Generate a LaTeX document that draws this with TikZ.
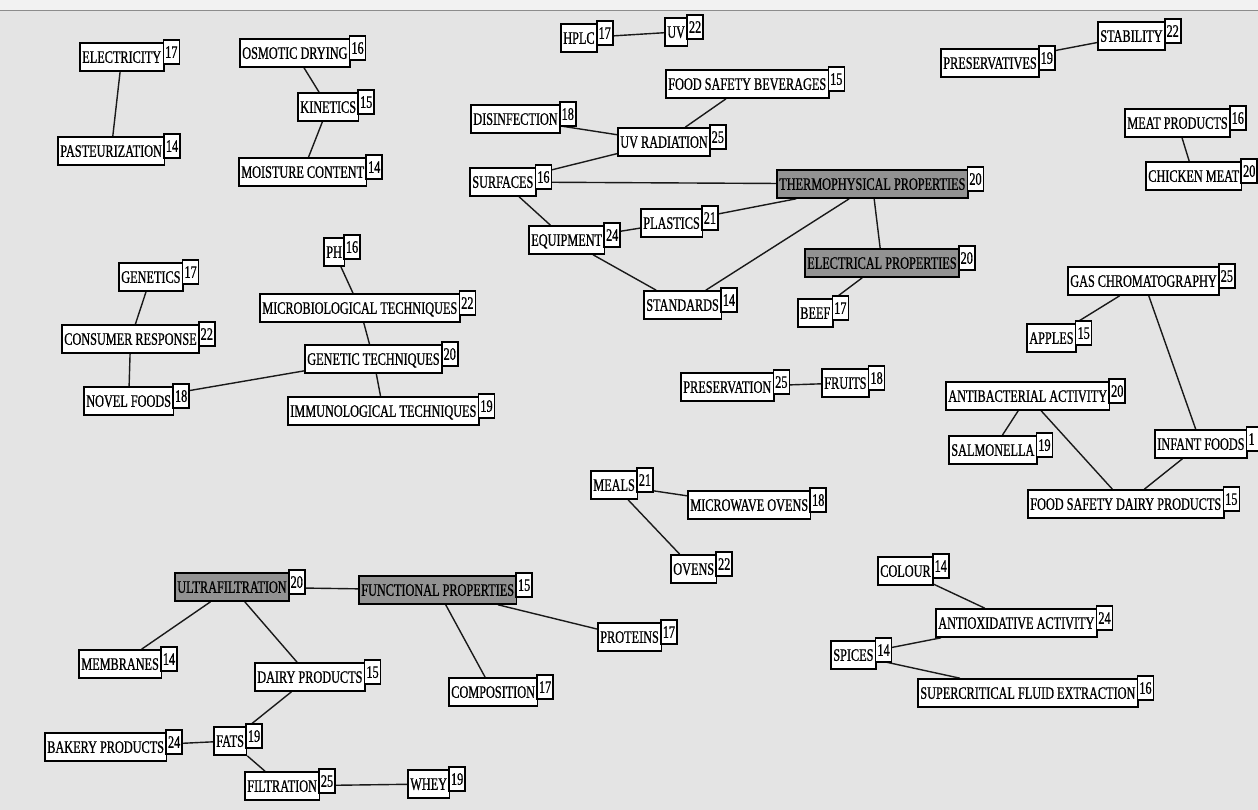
\documentclass[tikz,border=0pt]{standalone}
\usepackage{fontspec}
\setmainfont{Liberation Serif}[FakeStretch=0.70,FakeBold=0.8]
\usetikzlibrary{calc}
\pgfdeclarelayer{bg}
\pgfdeclarelayer{edges}
\pgfsetlayers{bg,edges,main}
\definecolor{panel}{RGB}{228,228,228}
\definecolor{toppanel}{RGB}{242,242,242}
\definecolor{hilite}{RGB}{146,146,146}
\newcommand\kwfont{\fontsize{17.5}{19}\selectfont}
\tikzset{
  mainbox/.style={draw=black, line width=1.6pt, fill=white, anchor=west,
    minimum height=28pt, inner xsep=2.5pt, inner ysep=0pt,
    text height=11.6pt, text depth=0pt, font=\kwfont},
  numbox/.style={draw=black, line width=1.6pt, fill=white, anchor=west,
    minimum height=24pt, minimum width=16pt, inner sep=0pt,
    text height=11.6pt, text depth=0pt, font=\kwfont},
  hot/.style={fill=hilite},
  edge/.style={line width=1.4pt, black!90},
}
\newcommand\kw[6][]{%
  \node[mainbox,#1] (#2) at (#3,#4) {#5};
  \node[numbox] (#2n) at ($(#2.east)+(-2,-5)$) {#6};}
\begin{document}
\begin{tikzpicture}[x=1pt,y=-1pt]
\clip (0,0) rectangle (1258,810);
\begin{pgfonlayer}{bg}
  \fill[panel] (0,0) rectangle (1258,810);
  \fill[toppanel] (0,0) rectangle (1258,10);
  \draw[black!45, line width=0.8pt] (0,10) -- (1258,10);
\end{pgfonlayer}
% nodes
\kw{elec}{79}{57}{ELECTRICITY}{17}
\kw{past}{57}{151}{PASTEURIZATION}{14}
\kw{osm}{239}{53}{OSMOTIC DRYING}{16}
\kw{kin}{297}{107}{KINETICS}{15}
\kw{moist}{238}{172}{MOISTURE CONTENT}{14}
\kw{hplc}{560}{38}{HPLC}{17}
\kw{uv}{664}{32}{UV}{22}
\kw{fsb}{665}{84}{FOOD SAFETY BEVERAGES}{15}
\kw{disinf}{470}{119}{DISINFECTION}{18}
\kw{uvrad}{617}{142}{UV RADIATION}{25}
\kw{surf}{469}{182}{SURFACES}{16}
\kw[hot]{thermo}{776}{184}{THERMOPHYSICAL PROPERTIES}{20}
\kw{equip}{528}{240}{EQUIPMENT}{24}
\kw{plast}{640}{223}{PLASTICS}{21}
\kw[hot]{elprop}{804}{263}{ELECTRICAL PROPERTIES}{20}
\kw{stand}{643}{305}{STANDARDS}{14}
\kw{beef}{797}{313}{BEEF}{17}
\kw{preserv}{680}{387}{PRESERVATION}{25}
\kw{fruits}{821}{383}{FRUITS}{18}
\kw{prsvt}{940}{63}{PRESERVATIVES}{19}
\kw{stab}{1097}{36}{STABILITY}{22}
\kw{meatp}{1124}{123}{MEAT PRODUCTS}{16}
\kw{chick}{1145}{176}{CHICKEN MEAT}{20}
\kw{genet}{118}{277}{GENETICS}{17}
\kw{consr}{61}{339}{CONSUMER RESPONSE}{22}
\kw{novel}{83}{401}{NOVEL FOODS}{18}
\kw{ph}{323}{252}{PH}{16}
\kw{micro}{259}{308}{MICROBIOLOGICAL TECHNIQUES}{22}
\kw{gtech}{304}{359}{GENETIC TECHNIQUES}{20}
\kw{immun}{287}{411}{IMMUNOLOGICAL TECHNIQUES}{19}
\kw{gas}{1067}{281}{GAS CHROMATOGRAPHY}{25}
\kw{apples}{1026}{338}{APPLES}{15}
\kw{antib}{945}{396}{ANTIBACTERIAL ACTIVITY}{20}
\kw{salm}{948}{450}{SALMONELLA}{19}
\kw{infant}{1154}{444}{INFANT FOODS}{1\phantom{5}}
\kw{fsdp}{1027}{504}{FOOD SAFETY DAIRY PRODUCTS}{15}
\kw{meals}{590}{485}{MEALS}{21}
\kw{mwo}{687}{505}{MICROWAVE OVENS}{18}
\kw{ovens}{670}{569}{OVENS}{22}
\kw{colour}{877}{571}{COLOUR}{14}
\kw{antiox}{935}{623}{ANTIOXIDATIVE ACTIVITY}{24}
\kw{spices}{830}{655}{SPICES}{14}
\kw{scfe}{917}{693}{SUPERCRITICAL FLUID EXTRACTION}{16}
\kw[hot]{ultra}{174}{587}{ULTRAFILTRATION}{20}
\kw[hot]{func}{358}{590}{FUNCTIONAL PROPERTIES}{15}
\kw{membr}{78}{664}{MEMBRANES}{14}
\kw{dairy}{254}{677}{DAIRY PRODUCTS}{15}
\kw{comp}{448}{692}{COMPOSITION}{17}
\kw{prot}{597}{637}{PROTEINS}{17}
\kw{bakery}{44}{747}{BAKERY PRODUCTS}{24}
\kw{fats}{213}{741}{FATS}{19}
\kw{filt}{244}{786}{FILTRATION}{25}
\kw{whey}{407}{784}{WHEY}{19}
% connectors
\begin{pgfonlayer}{edges}
\draw[edge] (elec) -- (past);
\draw[edge] (osm) -- (kin);
\draw[edge] (kin) -- (moist);
\draw[edge] (hplc) -- (uv);
\draw[edge] (fsb) -- (uvrad);
\draw[edge] (disinf) -- (uvrad);
\draw[edge] (uvrad) -- (surf);
\draw[edge] (surf) -- (thermo);
\draw[edge] (surf) -- (equip);
\draw[edge] (equip) -- (plast);
\draw[edge] (plast) -- (thermo);
\draw[edge] (equip) -- (stand);
\draw[edge] (stand) -- (thermo);
\draw[edge] (thermo) -- (elprop);
\draw[edge] (elprop) -- (beef);
\draw[edge] (preserv) -- (fruits);
\draw[edge] (prsvt) -- (stab);
\draw[edge] (meatp) -- (chick);
\draw[edge] (genet) -- (consr);
\draw[edge] (consr) -- (novel);
\draw[edge] (novel) -- (gtech);
\draw[edge] (ph) -- (micro);
\draw[edge] (micro) -- (gtech);
\draw[edge] (gtech) -- (immun);
\draw[edge] (gas) -- (apples);
\draw[edge] (gas) -- (infant);
\draw[edge] (antib) -- (salm);
\draw[edge] (antib) -- (fsdp);
\draw[edge] (infant) -- (fsdp);
\draw[edge] (meals) -- (mwo);
\draw[edge] (meals) -- (ovens);
\draw[edge] (colour) -- (antiox);
\draw[edge] (antiox) -- (spices);
\draw[edge] (spices) -- (scfe);
\draw[edge] (ultra) -- (func);
\draw[edge] (ultra) -- (membr);
\draw[edge] (ultra) -- (dairy);
\draw[edge] (func) -- (comp);
\draw[edge] (func) -- (prot);
\draw[edge] (dairy) -- (fats);
\draw[edge] (bakery) -- (fats);
\draw[edge] (fats) -- (filt);
\draw[edge] (filt) -- (whey);
\end{pgfonlayer}
\end{tikzpicture}
\end{document}
